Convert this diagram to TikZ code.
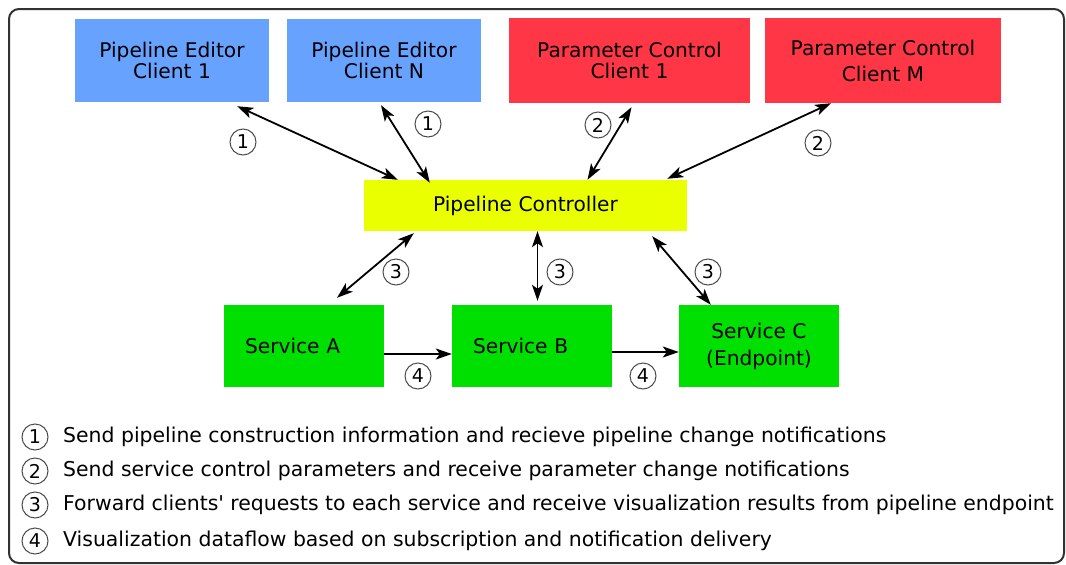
\documentclass[tikz,border=0pt]{standalone}
\usepackage{fontspec}
\setmainfont{DejaVu Sans}
\usetikzlibrary{arrows.meta}
\definecolor{editorblue}{RGB}{104,162,255}
\definecolor{controlred}{RGB}{255,54,70}
\definecolor{ctrlyellow}{RGB}{234,255,0}
\definecolor{servicegreen}{RGB}{0,224,0}
\definecolor{framegray}{RGB}{50,50,50}

\begin{document}
\begin{tikzpicture}[x=1pt,y=-1pt,
    box/.style={inner sep=0pt,align=center,font=\fontsize{20.2}{21}\selectfont},
    editor/.style={box,fill=editorblue,minimum width=194pt,minimum height=83pt},
    param/.style={box,fill=controlred,minimum height=85pt},
    service/.style={box,fill=servicegreen,minimum width=160pt,minimum height=82pt},
    num/.style={circle,draw=black!70,line width=1pt,inner sep=0pt,minimum size=26pt,font=\fontsize{19}{19}\selectfont},
    legend/.style={inner sep=0pt,anchor=west,font=\fontsize{20.4}{21}\selectfont},
    link/.style={line width=1.8pt,{Stealth[length=16pt,width=11pt,inset=4pt]}-{Stealth[length=16pt,width=11pt,inset=4pt]}},
    flow/.style={line width=1.8pt,-{Stealth[length=16pt,width=11pt,inset=4pt]}}]
    \useasboundingbox (0,0) rectangle (1066,565);
    \draw[framegray,line width=2pt,rounded corners=10pt] (9,9) rectangle (1064,563);

    % clients
    \node[editor] (pe1) at (172,60.5) {Pipeline Editor\\Client 1};
    \node[editor] (peN) at (384,60.5) {Pipeline Editor\\Client N};
    \node[param,minimum width=241pt] (pc1) at (629.5,60.5) {Parameter Control\\Client 1};
    \node[param,minimum width=236pt] (pcM) at (883,60.5) {Parameter Control\\[5pt]Client M};

    \node[box,fill=ctrlyellow,minimum width=323pt,minimum height=51pt] (ctrl) at (525.5,205.5) {Pipeline Controller};

    % services
    \node[service,align=left,text width=118pt,inner xsep=21pt] (srvA) at (304,346) {Service A};
    \node[service,align=left,text width=118pt,inner xsep=21pt] (srvB) at (532,346) {Service B};
    \node[service] (srvC) at (759,346) {Service C\\[6pt](Endpoint)};

    \draw[link] ([xshift=-32pt,yshift=-4pt]pe1.south east) -- ([xshift=34pt]ctrl.north west);
    \draw[link] ([xshift=-3pt,yshift=-3pt]peN.south) -- ([xshift=66pt,yshift=-3pt]ctrl.north west);
    \draw[link] ([xshift=2pt,yshift=-4pt]pc1.south) -- ([xshift=62pt]ctrl.north);
    \draw[link] ([xshift=-52pt]pcM.south) -- ([xshift=-20pt,yshift=1pt]ctrl.north east);
    \draw[link] ([xshift=50pt,yshift=-2pt]ctrl.south west) -- ([xshift=33pt,yshift=7pt]srvA.north);
    \draw[link] ([xshift=12pt]ctrl.south) -- ([xshift=5.5pt,yshift=4pt]srvB.north);
    \draw[link] ([xshift=-35pt,yshift=-5pt]ctrl.south east) -- ([xshift=32pt]srvC.north west);
    \draw[flow] ([yshift=-8pt]srvA.east) -- ([yshift=-8pt]srvB.west);
    \draw[flow] ([yshift=-6pt]srvB.east) -- ([yshift=-6pt]srvC.west);

    \node[num] (l1a) at (243,142) {1};
    \node[num] (l1b) at (428,124) {1};
    \node[num] (l2a) at (598,125) {2};
    \node[num] (l2b) at (818,143) {2};
    \node[num] (l3a) at (396,272) {3};
    \node[num] (l3b) at (560,272) {3};
    \node[num] (l3c) at (708,272) {3};
    \node[num] (l4a) at (418,376) {4};
    \node[num] (l4b) at (643,376) {4};

    % legend
    \node[num] (k1) at (35,437) {1};
    \node[legend] (t1) at (63,437) {Send pipeline construction information and recieve pipeline change notifications};
    \node[num] (k2) at (35,471) {2};
    \node[legend] (t2) at (63,471) {Send service control parameters and receive parameter change notifications};
    \node[num] (k3) at (35,505) {3};
    \node[legend] (t3) at (63,505) {Forward clients\textquotesingle{} requests to each service and receive visualization results from pipeline endpoint};
    \node[num] (k4) at (35,541) {4};
    \node[legend] (t4) at (63,541) {Visualization dataflow based on subscription and notification delivery};
\end{tikzpicture}
\end{document}
